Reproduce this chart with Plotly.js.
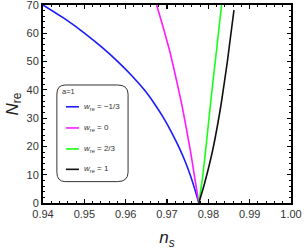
<!DOCTYPE html>
<html>
<head>
<meta charset="utf-8">
<script src="https://cdn.plot.ly/plotly-3.0.1.min.js"></script>
<style>html,body{margin:0;padding:0;background:#fff;}#chart{width:304px;height:251px;}</style>
</head>
<body>
<div id="chart"></div>
<script>
// Data (x = n_s, y = N_re)
const blueNs  = [0.9777, 0.9767, 0.9756, 0.9743, 0.9728, 0.9711, 0.9692, 0.9670, 0.9645, 0.9615, 0.9581, 0.9543, 0.9501, 0.9454, 0.9400];
const blueN   = [0, 5, 10, 15, 20, 25, 30, 35, 40, 45, 50, 55, 60, 65, 70];
const magNs   = [0.9777, 0.9767, 0.9756, 0.9737, 0.9722, 0.9706, 0.9690, 0.9675];
const magN    = [0, 9, 19, 34, 44, 54, 62.5, 70];
const greenNs = [0.9777, 0.9786, 0.9793, 0.9806, 0.9819, 0.9832];
const greenN  = [0, 9, 18, 36, 53, 70];
const blackNs = [0.9777, 0.9791, 0.9811, 0.9831, 0.9846, 0.9862];
const blackN  = [0, 7, 19, 35, 50, 68.2];
const seriesNames = ['<i>w</i><sub>re</sub> = −1/3', '<i>w</i><sub>re</sub> = 0', '<i>w</i><sub>re</sub> = 2/3', '<i>w</i><sub>re</sub> = 1'];
const legendTitle = 'a=1';
const xTicks = [0.94, 0.95, 0.96, 0.97, 0.98, 0.99, 1.00];
const xTickText = ['0.94', '0.95', '0.96', '0.97', '0.98', '0.99', '1.00'];
const yTicks = [0, 10, 20, 30, 40, 50, 60, 70];

const colors = ['#1a1aff', '#ff1aff', '#1aff1a', '#111111'];
const xs = [blueNs, magNs, greenNs, blackNs];
const ys = [blueN, magN, greenN, blackN];

const traces = xs.map((x, i) => ({
  x: x, y: ys[i], type: 'scatter', mode: 'lines',
  line: {color: colors[i], width: 1.6, shape: 'spline', smoothing: 0.5},
  name: seriesNames[i], showlegend: false
}));

const axisCommon = {
  showline: true, linecolor: '#000', linewidth: 2, mirror: 'allticks',
  ticks: 'inside', ticklen: 4, tickwidth: 1.2, tickcolor: '#000',
  showgrid: false, zeroline: false, ticklabeloverflow: 'allow',
  tickfont: {family: 'Liberation Sans, Arial', size: 11, color: '#333'}
};

// manual legend (rounded box like the reference)
const legFont = {family: 'Liberation Sans, Arial', size: 8, color: '#333'};
const rowY = [0.486, 0.379, 0.273, 0.170];
const shapes = [{
  type: 'path', xref: 'paper', yref: 'paper',
  path: 'M 0.09,0.596 L 0.30,0.596 Q 0.343,0.596 0.343,0.55 L 0.343,0.155 Q 0.343,0.108 0.30,0.108 L 0.09,0.108 Q 0.056,0.108 0.056,0.155 L 0.056,0.55 Q 0.056,0.596 0.09,0.596 Z',
  line: {color: '#333', width: 1}, fillcolor: 'rgba(0,0,0,0)'
}];
const annotations = [{
  xref: 'paper', yref: 'paper', x: 0.068, y: 0.561, xanchor: 'left', yanchor: 'middle',
  text: legendTitle, showarrow: false, font: {family: 'Liberation Sans, Arial', size: 7.5, color: '#333'}
}];
seriesNames.forEach((nm, i) => {
  shapes.push({type: 'line', xref: 'paper', yref: 'paper', x0: 0.0927, x1: 0.145, y0: rowY[i], y1: rowY[i],
    line: {color: colors[i], width: 1.6}});
  annotations.push({xref: 'paper', yref: 'paper', x: 0.158, y: rowY[i], xanchor: 'left', yanchor: 'middle',
    text: nm, showarrow: false, font: legFont});
});

const layout = {
  width: 304, height: 251,
  margin: {l: 43, r: 13, t: 5, b: 48},
  paper_bgcolor: '#fff', plot_bgcolor: '#fff',
  showlegend: false,
  xaxis: Object.assign({}, axisCommon, {
    range: [0.94, 1.00], tickvals: xTicks, ticktext: xTickText,
    minor: {dtick: 0.002, ticks: 'inside', ticklen: 2, tickcolor: '#000', tickwidth: 1},
    title: {text: '<i>n<sub>s</sub></i>', font: {family: 'Liberation Sans, Arial', size: 17, color: '#222'}, standoff: 12}
  }),
  yaxis: Object.assign({}, axisCommon, {
    range: [0, 70], tickvals: yTicks,
    minor: {dtick: 2, ticks: 'inside', ticklen: 2, tickcolor: '#000', tickwidth: 1},
    ticklabelstandoff: 0,
    title: {text: '<i>N</i><sub>re</sub>', font: {family: 'Liberation Sans, Arial', size: 17, color: '#222'}, standoff: 4}
  }),
  shapes: shapes,
  annotations: annotations
};

Plotly.newPlot('chart', traces, layout, {staticPlot: true, displayModeBar: false});
</script>
</body>
</html>
